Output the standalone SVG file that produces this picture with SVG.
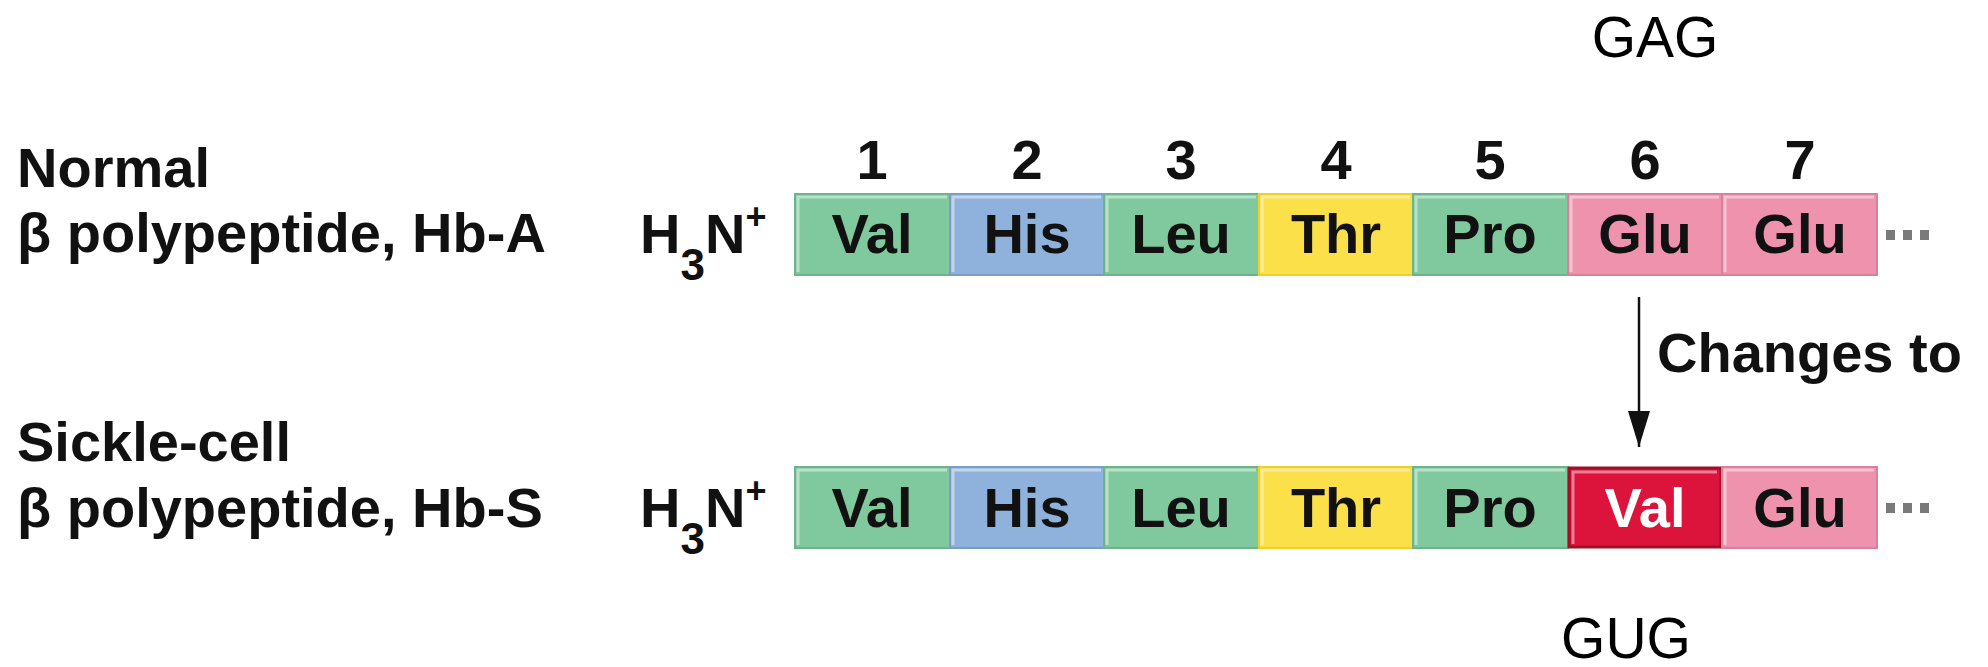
<svg xmlns="http://www.w3.org/2000/svg" width="1988" height="667" viewBox="0 0 1988 667">
  <style>
    .lbl { font-family: "Liberation Sans", Arial, sans-serif; font-weight: bold; font-size: 56px; fill: #111; }
    .aa { font-family: "Liberation Sans", Arial, sans-serif; font-weight: bold; font-size: 56px; fill: #111; text-anchor: middle; }
    .num { font-family: "Liberation Sans", Arial, sans-serif; font-weight: bold; font-size: 56px; fill: #111; text-anchor: middle; }
    .codon { font-family: "Liberation Sans", Arial, sans-serif; font-size: 57px; fill: #000; text-anchor: middle; }
    .green { fill: #80c99e; stroke: #6db48a; stroke-width: 2; }
    .blue { fill: #8fb2dc; stroke: #7a9cc6; stroke-width: 2; }
    .yellow { fill: #fbe04a; stroke: #f0cf2a; stroke-width: 2; }
    .pink { fill: #ee92ae; stroke: #d9809b; stroke-width: 2; }
    .red { fill: #dc143c; stroke: #9e0f28; stroke-width: 3; }
    .hl { fill: none; stroke: #ffffff; stroke-opacity: 0.45; stroke-width: 3; }
    .dot { fill: #7a7a7a; }
    .conn { stroke: #111; stroke-width: 2.5; fill: none; }
  </style>
  <defs>
    <marker id="ah" viewBox="0 0 10 10" refX="10" refY="5" markerWidth="36" markerHeight="22" markerUnits="userSpaceOnUse" orient="auto" preserveAspectRatio="none">
      <path d="M0,0 L10,5 L0,10 z" fill="#111"/>
    </marker>
  </defs>
  <rect width="1988" height="667" fill="#ffffff"/>

  <!-- codon labels -->
  <g id="codon-gag"><text class="codon" x="1655" y="57">GAG</text></g>
  <g id="codon-gug"><text class="codon" x="1626" y="658">GUG</text></g>

  <!-- row labels -->
  <g id="label-normal">
    <text class="lbl" x="17" y="187">Normal</text>
    <text class="lbl" x="17" y="252">β polypeptide, Hb-A</text>
  </g>
  <g id="label-sickle">
    <text class="lbl" x="17" y="461">Sickle-cell</text>
    <text class="lbl" x="17" y="527">β polypeptide, Hb-S</text>
  </g>

  <!-- N-termini -->
  <g id="nterm-top"><text class="lbl" x="640" y="253">H<tspan font-size="44" dy="27">3</tspan><tspan dy="-27">N</tspan><tspan font-size="36" dy="-24">+</tspan></text></g>
  <g id="nterm-bottom"><text class="lbl" x="640" y="527">H<tspan font-size="44" dy="27">3</tspan><tspan dy="-27">N</tspan><tspan font-size="36" dy="-24">+</tspan></text></g>

  <!-- position numbers -->
  <g id="positions">
    <text class="num" x="872" y="179">1</text>
    <text class="num" x="1027" y="179">2</text>
    <text class="num" x="1181" y="179">3</text>
    <text class="num" x="1336" y="179">4</text>
    <text class="num" x="1490" y="179">5</text>
    <text class="num" x="1645" y="179">6</text>
    <text class="num" x="1800" y="179">7</text>
  </g>

  <!-- top row -->
  <g id="hbA-1"><rect class="green" x="795" y="194" width="155" height="81"/><polyline class="hl" points="798,272 798,197 947,197"/><text class="aa" x="872" y="253">Val</text></g>
  <g id="hbA-2"><rect class="blue" x="950" y="194" width="154" height="81"/><polyline class="hl" points="953,272 953,197 1101,197"/><text class="aa" x="1027" y="253">His</text></g>
  <g id="hbA-3"><rect class="green" x="1104" y="194" width="155" height="81"/><polyline class="hl" points="1107,272 1107,197 1256,197"/><text class="aa" x="1181" y="253">Leu</text></g>
  <g id="hbA-4"><rect class="yellow" x="1259" y="194" width="154" height="81"/><polyline class="hl" points="1262,272 1262,197 1410,197"/><text class="aa" x="1336" y="253">Thr</text></g>
  <g id="hbA-5"><rect class="green" x="1413" y="194" width="155" height="81"/><polyline class="hl" points="1416,272 1416,197 1565,197"/><text class="aa" x="1490" y="253">Pro</text></g>
  <g id="hbA-6"><rect class="pink" x="1568" y="194" width="154" height="81"/><polyline class="hl" points="1571,272 1571,197 1719,197"/><text class="aa" x="1645" y="253">Glu</text></g>
  <g id="hbA-7"><rect class="pink" x="1722" y="194" width="155" height="81"/><polyline class="hl" points="1725,272 1725,197 1874,197"/><text class="aa" x="1800" y="253">Glu</text></g>
  <g id="hbA-more"><rect class="dot" x="1886" y="230" width="9" height="10"/><rect class="dot" x="1903" y="230" width="9" height="10"/><rect class="dot" x="1920" y="230" width="9" height="10"/></g>

  <!-- bottom row -->
  <g id="hbS-1"><rect class="green" x="795" y="467" width="155" height="81"/><polyline class="hl" points="798,545 798,470 947,470"/><text class="aa" x="872" y="527">Val</text></g>
  <g id="hbS-2"><rect class="blue" x="950" y="467" width="154" height="81"/><polyline class="hl" points="953,545 953,470 1101,470"/><text class="aa" x="1027" y="527">His</text></g>
  <g id="hbS-3"><rect class="green" x="1104" y="467" width="155" height="81"/><polyline class="hl" points="1107,545 1107,470 1256,470"/><text class="aa" x="1181" y="527">Leu</text></g>
  <g id="hbS-4"><rect class="yellow" x="1259" y="467" width="154" height="81"/><polyline class="hl" points="1262,545 1262,470 1410,470"/><text class="aa" x="1336" y="527">Thr</text></g>
  <g id="hbS-5"><rect class="green" x="1413" y="467" width="155" height="81"/><polyline class="hl" points="1416,545 1416,470 1565,470"/><text class="aa" x="1490" y="527">Pro</text></g>
  <g id="hbS-6"><rect class="red" x="1569" y="468" width="152" height="79"/><polyline class="hl" points="1573,544 1573,472 1717,472"/><text class="aa" x="1645" y="527" style="fill:#ffffff">Val</text></g>
  <g id="hbS-7"><rect class="pink" x="1722" y="467" width="155" height="81"/><polyline class="hl" points="1725,545 1725,470 1874,470"/><text class="aa" x="1800" y="527">Glu</text></g>
  <g id="hbS-more"><rect class="dot" x="1886" y="503" width="9" height="10"/><rect class="dot" x="1903" y="503" width="9" height="10"/><rect class="dot" x="1920" y="503" width="9" height="10"/></g>

  <!-- connectors -->
  <g id="connectors">
    <line class="conn" x1="1639" y1="297" x2="1639" y2="447" marker-end="url(#ah)"/>
    <text class="lbl" x="1657" y="372" font-size="55">Changes to</text>
  </g>
</svg>
